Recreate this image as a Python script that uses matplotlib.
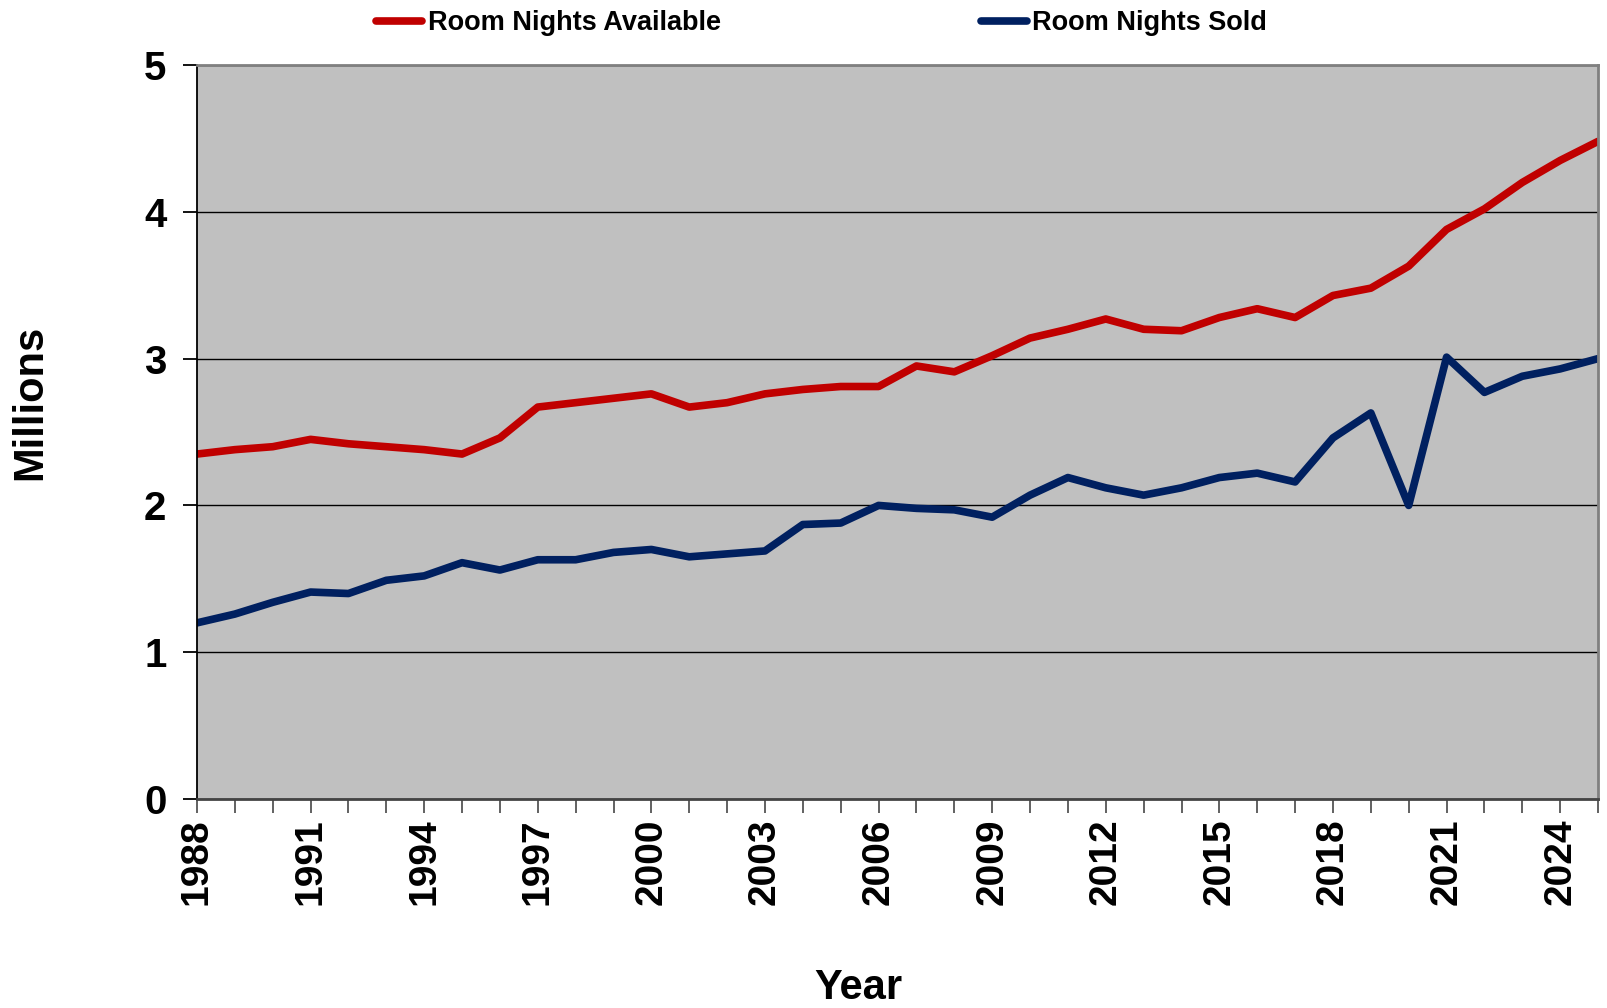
import numpy as np
import matplotlib.pyplot as plt
from matplotlib.ticker import FixedLocator, MultipleLocator

plt.rcParams['font.family'] = ['Liberation Sans', 'DejaVu Sans']
plt.rcParams['font.weight'] = 'bold'

years = list(range(1988, 2026))
label_years = list(range(1988, 2026, 3))

# millions of room nights
available = [2.35, 2.38, 2.40, 2.45, 2.42, 2.40, 2.38, 2.35, 2.46, 2.67,
             2.70, 2.73, 2.76, 2.67, 2.70, 2.76, 2.79, 2.81, 2.81, 2.95,
             2.91, 3.02, 3.14, 3.20, 3.27, 3.20, 3.19, 3.28, 3.34, 3.28,
             3.43, 3.48, 3.63, 3.88, 4.02, 4.20, 4.35, 4.48]
sold = [1.20, 1.26, 1.34, 1.41, 1.40, 1.49, 1.52, 1.61, 1.56, 1.63,
        1.63, 1.68, 1.70, 1.65, 1.67, 1.69, 1.87, 1.88, 2.00, 1.98,
        1.97, 1.92, 2.07, 2.19, 2.12, 2.07, 2.12, 2.19, 2.22, 2.16,
        2.46, 2.63, 2.00, 3.01, 2.77, 2.88, 2.93, 3.00]

fig = plt.figure(figsize=(16.08, 10.08), dpi=100)
ax = fig.add_axes([0.1225, 0.2073, 0.8713, 0.7282])
ax.set_facecolor('#C0C0C0')

ax.plot(years, available, color='#C00000', lw=5.5, label='Room Nights Available',
        solid_capstyle='round', solid_joinstyle='round')
ax.plot(years, sold, color='#002060', lw=5.5, label='Room Nights Sold',
        solid_capstyle='round', solid_joinstyle='round')

ax.set_xlim(1988, 2025)
ax.set_ylim(0, 5)
ax.xaxis.set_major_locator(FixedLocator(label_years))
ax.xaxis.set_minor_locator(MultipleLocator(1))
ax.yaxis.set_major_locator(MultipleLocator(1))
ax.grid(axis='y', color='black', lw=1)
ax.set_axisbelow(True)

ax.tick_params(axis='x', which='both', length=10, width=1.3, color='#555555',
               labelsize=28, rotation=90, pad=4)
ax.tick_params(axis='y', length=10, width=1.3, labelsize=29, pad=12)
for lbl in ax.get_xticklabels() + ax.get_yticklabels():
    lbl.set_fontweight('bold')

ax.spines['left'].set_color('black')
ax.spines['left'].set_linewidth(1.3)
ax.spines['bottom'].set_color('#444444')
ax.spines['bottom'].set_linewidth(2)
ax.spines['top'].set_color('#808080')
ax.spines['top'].set_linewidth(2)
ax.spines['right'].set_color('#808080')
ax.spines['right'].set_linewidth(2)

fig.text(0.019, 0.601, 'Millions', rotation=90, ha='center', va='center',
         fontsize=30, fontweight='bold')
fig.text(0.534, 0.02, 'Year', ha='center', va='center',
         fontsize=30, fontweight='bold')

leg = fig.legend(loc='center', bbox_to_anchor=(0.511, 0.977), ncol=2, frameon=False,
                 prop={'weight': 'bold', 'size': 19.5}, handlelength=1.7,
                 handletextpad=0.2, columnspacing=9.6)
for h in leg.get_lines():
    h.set_linewidth(5.5)

fig.savefig('out.png', dpi=100)
